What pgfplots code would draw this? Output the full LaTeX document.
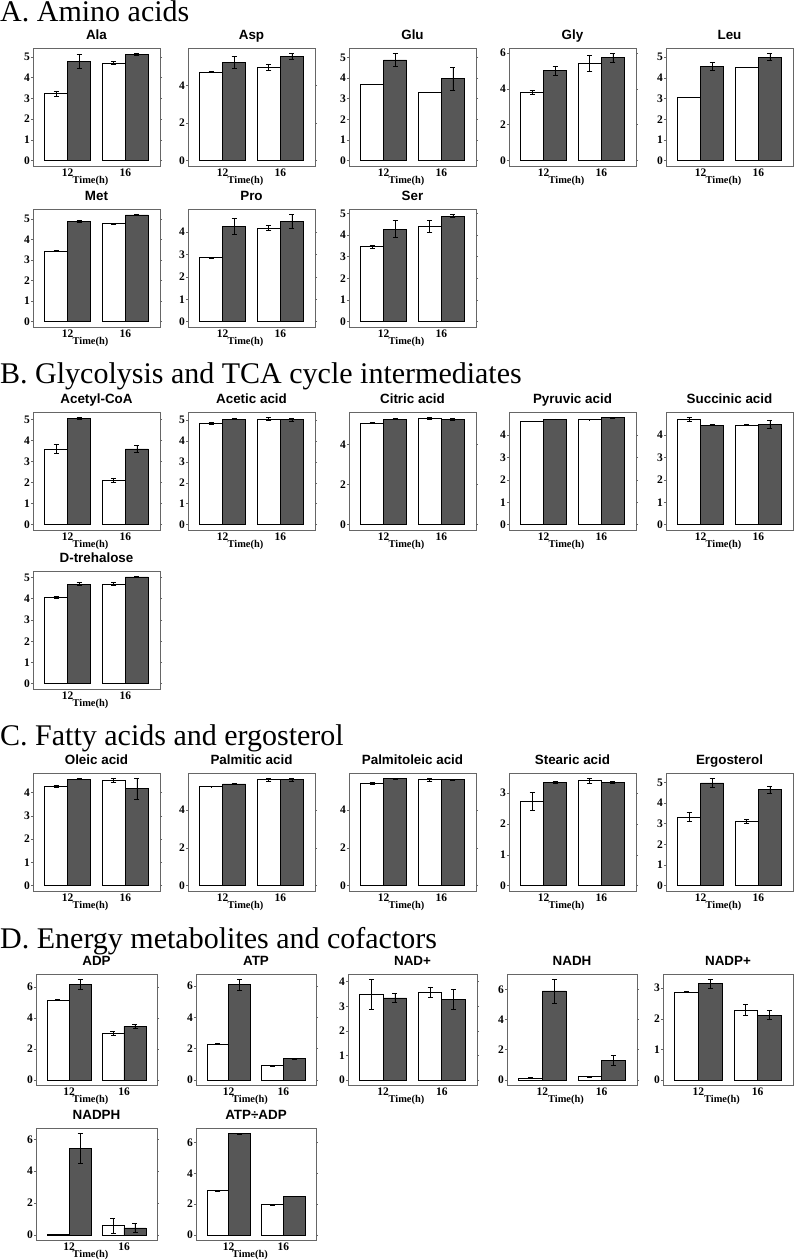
\documentclass[border=0pt]{standalone}
\usepackage{fontspec}
\setmainfont{Liberation Serif}
\setsansfont{Liberation Sans}
\usepackage{pgfplots}
\pgfplotsset{compat=1.18}
\definecolor{darkbar}{HTML}{575757}
\newcommand{\tlfont}{\bfseries\fontsize{11.5}{11.5}\selectfont}
\pgfplotsset{
 panel/.style={
  scale only axis, width=127pt, height=118pt, anchor=north west,
  xmin=0.4, xmax=2.6, xtick={1,2}, xticklabels={12,16},
  axis line style={draw=black!60, line width=0.9pt},
  tick style={black!60, line width=0.6pt}, tick align=outside, major tick length=2pt,
  xtick style={draw=none},
  /pgf/number format/assume math mode=true,
  tick label style={font=\tlfont, inner sep=1pt},
  xlabel={Time(h)},
  xlabel style={font=\bfseries\fontsize{10.4}{10.4}\selectfont, at={(axis description cs:0.5,0)}, anchor=north, inner sep=0pt, yshift=-10.5pt, xshift=-6pt},
  title style={font=\bfseries\sffamily\fontsize{13.4}{13.4}\selectfont, at={(axis description cs:0.5,1)}, anchor=base, inner sep=0pt, yshift=2.5pt},
 },
 wbar/.style={ybar, bar width=0.4, bar shift=0pt, fill=white, draw=black, line width=0.8pt,
   error bars/.cd, y dir=both, y explicit, error bar style={black, line width=0.8pt},
   error mark options={rotate=90, mark size=2.5pt, black, line width=0.8pt}},
 dbar/.style={ybar, bar width=0.4, bar shift=0pt, fill=darkbar, draw=black, line width=0.8pt,
   error bars/.cd, y dir=both, y explicit, error bar style={black, line width=0.8pt},
   error mark options={rotate=90, mark size=2.5pt, black, line width=0.8pt}},
}
\newcommand{\panel}[3]{%
\begin{axis}[panel,#1]
\addplot[wbar] coordinates {#2};
\addplot[dbar] coordinates {#3};
\end{axis}}
\begin{document}
\begin{tikzpicture}
\path[use as bounding box] (0pt,0pt) rectangle (794pt,-1260pt);
\tikzset{head/.style={anchor=base west, inner sep=0pt, font=\fontsize{30}{30}\selectfont}}
\node[head] at (0pt,-22pt) {A. Amino acids};
\node[head] at (0pt,-383pt) {B. Glycolysis and TCA cycle intermediates};
\node[head] at (0pt,-745pt) {C. Fatty acids and ergosterol};
\node[head] at (0pt,-948pt) {D. Energy metabolites and cofactors};
% Row A1
\panel{at={(33pt,-48pt)}, title={Ala}, ymin=-0.259, ymax=5.43, ytick={0,1,2,3,4,5}}
 {(0.8,3.24) +- (0,0.12) (1.8,4.71) +- (0,0.08)}
 {(1.2,4.78) +- (0,0.32) (2.2,5.13) +- (0,0.04)}
\panel{at={(188pt,-48pt)}, title={Asp}, ymin=-0.285, ymax=5.985, ytick={0,2,4}}
 {(0.8,4.70) +- (0,0.03) (1.8,4.97) +- (0,0.17)}
 {(1.2,5.23) +- (0,0.31) (2.2,5.53) +- (0,0.17)}
\panel{at={(349pt,-48pt)}, title={Glu}, ymin=-0.26, ymax=5.45, ytick={0,1,2,3,4,5}}
 {(0.8,3.69) +- (0,0) (1.8,3.32) +- (0,0)}
 {(1.2,4.87) +- (0,0.32) (2.2,3.97) +- (0,0.55)}
\panel{at={(509pt,-48pt)}, title={Gly}, ymin=-0.299, ymax=6.28, ytick={0,2,4,6}}
 {(0.8,3.79) +- (0,0.11) (1.8,5.43) +- (0,0.46)}
 {(1.2,5.01) +- (0,0.26) (2.2,5.73) +- (0,0.25)}
\panel{at={(666pt,-48pt)}, title={Leu}, ymin=-0.259, ymax=5.44, ytick={0,1,2,3,4,5}}
 {(0.8,3.05) +- (0,0) (1.8,4.52) +- (0,0)}
 {(1.2,4.55) +- (0,0.21) (2.2,5.00) +- (0,0.18)}
% Row A2
\panel{at={(33pt,-209pt)}, title={Met}, ymin=-0.261, ymax=5.48, ytick={0,1,2,3,4,5}}
 {(0.8,3.44) +- (0,0.02) (1.8,4.76) +- (0,0.03)}
 {(1.2,4.89) +- (0,0.04) (2.2,5.19) +- (0,0.03)}
\panel{at={(188pt,-209pt)}, title={Pro}, ymin=-0.24, ymax=5.03, ytick={0,1,2,3,4}}
 {(0.8,2.85) +- (0,0.01) (1.8,4.18) +- (0,0.11)}
 {(1.2,4.25) +- (0,0.36) (2.2,4.47) +- (0,0.32)}
\panel{at={(349pt,-209pt)}, title={Ser}, ymin=-0.248, ymax=5.21, ytick={0,1,2,3,4,5}}
 {(0.8,3.46) +- (0,0.08) (1.8,4.40) +- (0,0.27)}
 {(1.2,4.28) +- (0,0.39) (2.2,4.88) +- (0,0.08)}
% Row B1
\panel{at={(33pt,-412pt)}, title={Acetyl-CoA}, ymin=-0.255, ymax=5.355, ytick={0,1,2,3,4,5}}
 {(0.8,3.60) +- (0,0.20) (1.8,2.12) +- (0,0.10)}
 {(1.2,5.05) +- (0,0.05) (2.2,3.60) +- (0,0.15)}
\panel{at={(188pt,-412pt)}, title={Acetic acid}, ymin=-0.2565, ymax=5.39, ytick={0,1,2,3,4,5}}
 {(0.8,4.84) +- (0,0.03) (1.8,5.06) +- (0,0.07)}
 {(1.2,5.05) +- (0,0.01) (2.2,5.02) +- (0,0.07)}
\panel{at={(349pt,-412pt)}, title={Citric acid}, ymin=-0.268, ymax=5.63, ytick={0,2,4}}
 {(0.8,5.07) +- (0,0.02) (1.8,5.30) +- (0,0.06)}
 {(1.2,5.28) +- (0,0.02) (2.2,5.27) +- (0,0.05)}
\panel{at={(509pt,-412pt)}, title={Pyruvic acid}, ymin=-0.24, ymax=5.03, ytick={0,1,2,3,4}}
 {(0.8,4.61) +- (0,0.01) (1.8,4.69) +- (0,0.01)}
 {(1.2,4.70) +- (0,0.02) (2.2,4.77) +- (0,0.02)}
\panel{at={(666pt,-412pt)}, title={Succinic acid}, ymin=-0.24, ymax=5.03, ytick={0,1,2,3,4}}
 {(0.8,4.69) +- (0,0.10) (1.8,4.44) +- (0,0.02)}
 {(1.2,4.44) +- (0,0.02) (2.2,4.47) +- (0,0.17)}
% Row B2
\panel{at={(33pt,-571pt)}, title={D-trehalose}, ymin=-0.253, ymax=5.31, ytick={0,1,2,3,4,5}}
 {(0.8,4.08) +- (0,0.04) (1.8,4.70) +- (0,0.09)}
 {(1.2,4.69) +- (0,0.06) (2.2,5.03) +- (0,0.03)}
% Row C1
\panel{at={(33pt,-773pt)}, title={Oleic acid}, ymin=-0.23, ymax=4.84, ytick={0,1,2,3,4}}
 {(0.8,4.28) +- (0,0.04) (1.8,4.51) +- (0,0.08)}
 {(1.2,4.57) +- (0,0.02) (2.2,4.16) +- (0,0.45)}
\panel{at={(188pt,-773pt)}, title={Palmitic acid}, ymin=-0.285, ymax=5.97, ytick={0,2,4}}
 {(0.8,5.25) +- (0,0.01) (1.8,5.61) +- (0,0.07)}
 {(1.2,5.39) +- (0,0.02) (2.2,5.61) +- (0,0.08)}
\panel{at={(349pt,-773pt)}, title={Palmitoleic acid}, ymin=-0.285, ymax=5.97, ytick={0,2,4}}
 {(0.8,5.42) +- (0,0.05) (1.8,5.61) +- (0,0.07)}
 {(1.2,5.67) +- (0,0.02) (2.2,5.61) +- (0,0.04)}
\panel{at={(509pt,-773pt)}, title={Stearic acid}, ymin=-0.174, ymax=3.654, ytick={0,1,2,3}}
 {(0.8,2.72) +- (0,0.29) (1.8,3.40) +- (0,0.08)}
 {(1.2,3.35) +- (0,0.02) (2.2,3.36) +- (0,0.03)}
\panel{at={(666pt,-773pt)}, title={Ergosterol}, ymin=-0.26, ymax=5.46, ytick={0,1,2,3,4,5}}
 {(0.8,3.32) +- (0,0.21) (1.8,3.11) +- (0,0.10)}
 {(1.2,4.98) +- (0,0.22) (2.2,4.65) +- (0,0.18)}
% Row D1
\panel{at={(36pt,-974pt)}, width=121pt, height=111pt, title={ADP}, ymin=-0.326, ymax=6.846, ytick={0,2,4,6}}
 {(0.8,5.17) +- (0,0.06) (1.8,3.00) +- (0,0.14)}
 {(1.2,6.17) +- (0,0.35) (2.2,3.47) +- (0,0.13)}
\panel{at={(196pt,-974pt)}, width=120pt, height=111pt, title={ATP}, ymin=-0.323, ymax=6.78, ytick={0,2,4,6}}
 {(0.8,2.29) +- (0,0.02) (1.8,0.91) +- (0,0.04)}
 {(1.2,6.10) +- (0,0.36) (2.2,1.35) +- (0,0.05)}
\panel{at={(348pt,-974pt)}, width=129pt, height=111pt, title={NAD+}, ymin=-0.2055, ymax=4.3155, ytick={0,1,2,3,4}}
 {(0.8,3.49) +- (0,0.62) (1.8,3.57) +- (0,0.22)}
 {(1.2,3.34) +- (0,0.19) (2.2,3.28) +- (0,0.41)}
\panel{at={(507pt,-974pt)}, width=130pt, height=111pt, title={NADH}, ymin=-0.334, ymax=7.014, ytick={0,2,4,6}}
 {(0.8,0.11) +- (0,0.03) (1.8,0.22) +- (0,0.03)}
 {(1.2,5.89) +- (0,0.79) (2.2,1.30) +- (0,0.34)}
\panel{at={(663pt,-974pt)}, width=130pt, height=111pt, title={NADP+}, ymin=-0.165, ymax=3.465, ytick={0,1,2,3}}
 {(0.8,2.87) +- (0,0.02) (1.8,2.29) +- (0,0.19)}
 {(1.2,3.15) +- (0,0.15) (2.2,2.12) +- (0,0.15)}
% Row D2
\panel{at={(36pt,-1128pt)}, width=121pt, height=112pt, title={NADPH}, ymin=-0.32, ymax=6.71, ytick={0,2,4,6}}
 {(0.8,0.01) +- (0,0) (1.8,0.57) +- (0,0.47)}
 {(1.2,5.45) +- (0,0.94) (2.2,0.44) +- (0,0.26)}
\panel{at={(196pt,-1128pt)}, width=120pt, height=112pt, title={ATP÷ADP}, ymin=-0.33, ymax=6.94, ytick={0,2,4,6}}
 {(0.8,2.87) +- (0,0.02) (1.8,1.96) +- (0,0.02)}
 {(1.2,6.57) +- (0,0.04) (2.2,2.50) +- (0,0.02)}
\end{tikzpicture}
\end{document}
